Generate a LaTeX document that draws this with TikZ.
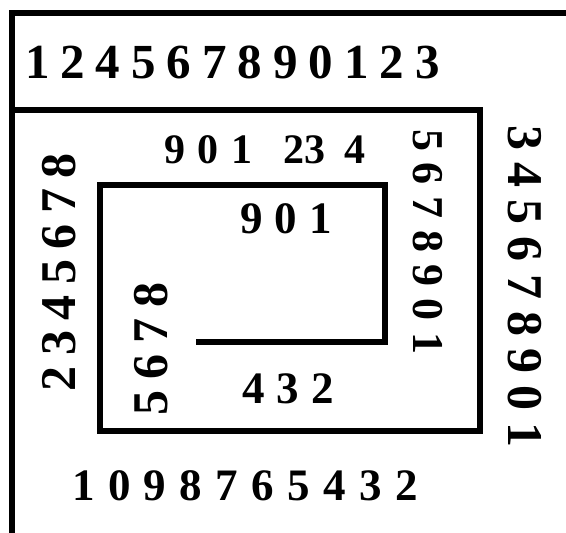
\documentclass[tikz,border=0pt]{standalone}
\usepackage{fontspec}
\setmainfont{Liberation Serif}
\newcommand\digs[3]{\fontsize{#1pt}{#1pt}\selectfont\bfseries\spaceskip=#2pt\relax #3}
\begin{document}
\begin{tikzpicture}[x=1pt,y=-1pt,
  lbl/.style={inner sep=0pt, outer sep=0pt, anchor=base west},
  spiral/.style={line width=6pt, line join=miter, draw=black}]
\useasboundingbox (0,0) rectangle (566,533);
\draw[spiral] (12,533) -- (12,13) -- (566,13);
\draw[spiral] (12,110) -- (480,110) -- (480,431) -- (100,431) -- (100,185) -- (385,185) -- (385,342) -- (196,342);
\node[lbl] (top) at (25,78) {\digs{49}{11}{1 2 4 5 6 7 8 9 0 1 2 3}};
\node[lbl] (mid) at (164,163) {\digs{42}{13}{9 0 1\hspace{31pt}23\hspace{19pt}4}};
\node[lbl] (in901) at (240,233) {\digs{45}{12.5}{9 0 1}};
\node[lbl] (in432) at (242,403) {\digs{45}{12.5}{4 3 2}};
\node[lbl] (bot) at (72,500) {\digs{45}{13.5}{1 0 9 8 7 6 5 4 3 2}};
\node[lbl, rotate=90] (left) at (75,391) {\digs{50}{10.5}{2 3 4 5 6 7 8}};
\node[lbl, rotate=90] (in5678) at (167,415) {\digs{50}{11}{5 6 7 8}};
\node[lbl, rotate=-90] (r1) at (413,129) {\digs{44}{12}{5 6 7 8 9 0 1}};
\node[lbl, rotate=-90] (r2) at (508,125) {\digs{50}{12.25}{3 4 5 6 7 8 9 0 1}};
\end{tikzpicture}
\end{document}
